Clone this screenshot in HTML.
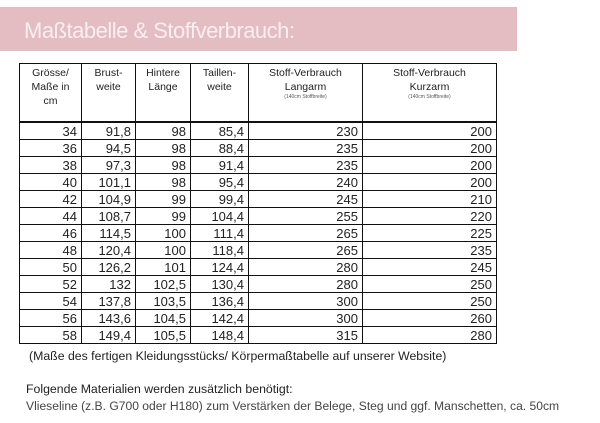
<!DOCTYPE html>
<html><head><meta charset="utf-8"><style>
body{margin:0;width:600px;height:423px;background:#fff;position:relative;overflow:hidden;font-family:"Liberation Sans",sans-serif;color:#222}
.banner{position:absolute;left:0;top:7px;width:517px;height:44px;background:#e3bdc2}
.banner span{position:absolute;left:24px;top:11px;font-size:22px;color:#f8eef0;letter-spacing:-0.5px}
.t{position:absolute;left:19px;top:63px;border-collapse:collapse;font-size:13px}
.t td{border:1.3px solid #111;padding:0 4px;text-align:right;height:16px;line-height:15px}
.t tr.h td{height:55px;vertical-align:top;text-align:center;font-size:10.5px;line-height:14px;padding-top:2px;border-bottom:2px solid #111}
.t tr.h td small{font-size:5px;display:block;line-height:7px;color:#555}
.p{position:absolute;font-size:12.3px;white-space:nowrap}
</style></head><body>
<div class="banner"><span>Maßtabelle &amp; Stoffverbrauch:</span></div>
<table class="t">
<colgroup><col style="width:62px"><col style="width:54px"><col style="width:55px"><col style="width:58px"><col style="width:114px"><col style="width:134px"></colgroup>
<tr class="h"><td>Grösse/<br>Maße in<br>cm</td><td>Brust-<br>weite</td><td>Hintere<br>Länge</td><td>Taillen-<br>weite</td><td>Stoff-Verbrauch<br>Langarm<small>(140cm Stoffbreite)</small></td><td>Stoff-Verbrauch<br>Kurzarm<small>(140cm Stoffbreite)</small></td></tr>
<tr><td>34</td><td>91,8</td><td>98</td><td>85,4</td><td>230</td><td>200</td></tr>
<tr><td>36</td><td>94,5</td><td>98</td><td>88,4</td><td>235</td><td>200</td></tr>
<tr><td>38</td><td>97,3</td><td>98</td><td>91,4</td><td>235</td><td>200</td></tr>
<tr><td>40</td><td>101,1</td><td>98</td><td>95,4</td><td>240</td><td>200</td></tr>
<tr><td>42</td><td>104,9</td><td>99</td><td>99,4</td><td>245</td><td>210</td></tr>
<tr><td>44</td><td>108,7</td><td>99</td><td>104,4</td><td>255</td><td>220</td></tr>
<tr><td>46</td><td>114,5</td><td>100</td><td>111,4</td><td>265</td><td>225</td></tr>
<tr><td>48</td><td>120,4</td><td>100</td><td>118,4</td><td>265</td><td>235</td></tr>
<tr><td>50</td><td>126,2</td><td>101</td><td>124,4</td><td>280</td><td>245</td></tr>
<tr><td>52</td><td>132</td><td>102,5</td><td>130,4</td><td>280</td><td>250</td></tr>
<tr><td>54</td><td>137,8</td><td>103,5</td><td>136,4</td><td>300</td><td>250</td></tr>
<tr><td>56</td><td>143,6</td><td>104,5</td><td>142,4</td><td>300</td><td>260</td></tr>
<tr><td>58</td><td>149,4</td><td>105,5</td><td>148,4</td><td>315</td><td>280</td></tr>
</table>
<div class="p" style="left:29px;top:349px">(Maße des fertigen Kleidungsstücks/ Körpermaßtabelle auf unserer Website)</div>
<div class="p" style="left:26px;top:382px">Folgende Materialien werden zusätzlich benötigt:</div>
<div class="p" style="left:26px;top:399px;color:#444;font-size:12.1px">Vlieseline (z.B. G700 oder H180) zum Verstärken der Belege, Steg und ggf. Manschetten, ca. 50cm</div>
</body></html>
